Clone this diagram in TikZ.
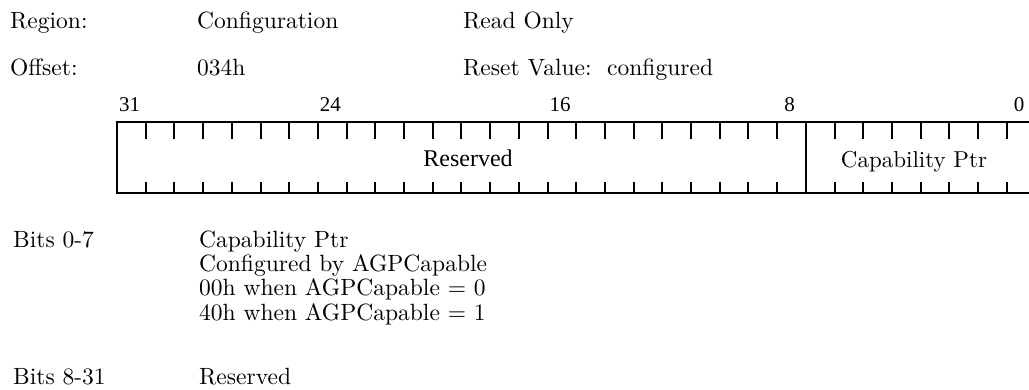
\documentclass[tikz,border=0pt]{standalone}
\usepackage{fontspec}
\newfontfamily\numfont{Liberation Serif}
\newfontfamily\bodyfont{lmroman10-regular.otf}
\begin{document}
\begin{tikzpicture}[x=1pt,y=-1pt,
  txt/.style={anchor=base west,inner sep=0pt,font=\bodyfont\fontsize{23.5}{26}\selectfont},
  fieldtxt/.style={anchor=base,inner sep=0pt,font=\bodyfont\fontsize{23}{26}\selectfont},
  restxt/.style={anchor=base,inner sep=0pt,font=\numfont\fontsize{24}{26}\selectfont},
  bitnum/.style={anchor=base,inner sep=0pt,font=\numfont\fontsize{21}{24}\selectfont},
  rule/.style={line width=2pt}]
\useasboundingbox (0,0) rectangle (1029,390);

% header
\node[txt] (region)  at (10,29)  {Region:};
\node[txt] (regval)  at (197,29) {Configuration};
\node[txt] (access)  at (463,29) {Read Only};
\node[txt] (offset)  at (10,76)  {Offset:};
\node[txt] (offval)  at (197,76) {034h};
\node[txt] (reset)   at (463,76) {Reset Value:\ \ configured};

% bit numbers (cell width 28.7, left edge 117)
\foreach \b/\nm in {31/b31,24/b24,16/b16,8/b8,0/b0}{
  \pgfmathsetmacro\cx{117+(31-\b)*28.7+12.5}
  \node[bitnum] (\nm) at (\cx,112) {\b};
}

% register frame
\draw[rule] (117,122) rectangle (1035.4,193);
\draw[rule] (805.8,122) -- (805.8,193);
\foreach \k in {1,...,31}{
  \ifnum\k=24\relax\else
    \pgfmathsetmacro\tx{117+\k*28.7}
    \draw[rule] (\tx,122) -- (\tx,139);
    \draw[rule] (\tx,193) -- (\tx,182);
  \fi
}

% fields
\node[restxt]   (fres) at (468,167) {Reserved};
\node[fieldtxt] (fcap) at (914,168) {Capability Ptr};

% bit descriptions
\node[txt] (bits07)  at (13,248)  {Bits 0-7};
\node[txt] (d07a)    at (199,248) {Capability Ptr};
\node[txt] (d07b)    at (199,272) {Configured by AGPCapable};
\node[txt] (d07c)    at (199,296) {00h when AGPCapable = 0};
\node[txt] (d07d)    at (199,320) {40h when AGPCapable = 1};
\node[txt] (bits831) at (13,384)  {Bits 8-31};
\node[txt] (d831)    at (199,384) {Reserved};
\end{tikzpicture}
\end{document}
